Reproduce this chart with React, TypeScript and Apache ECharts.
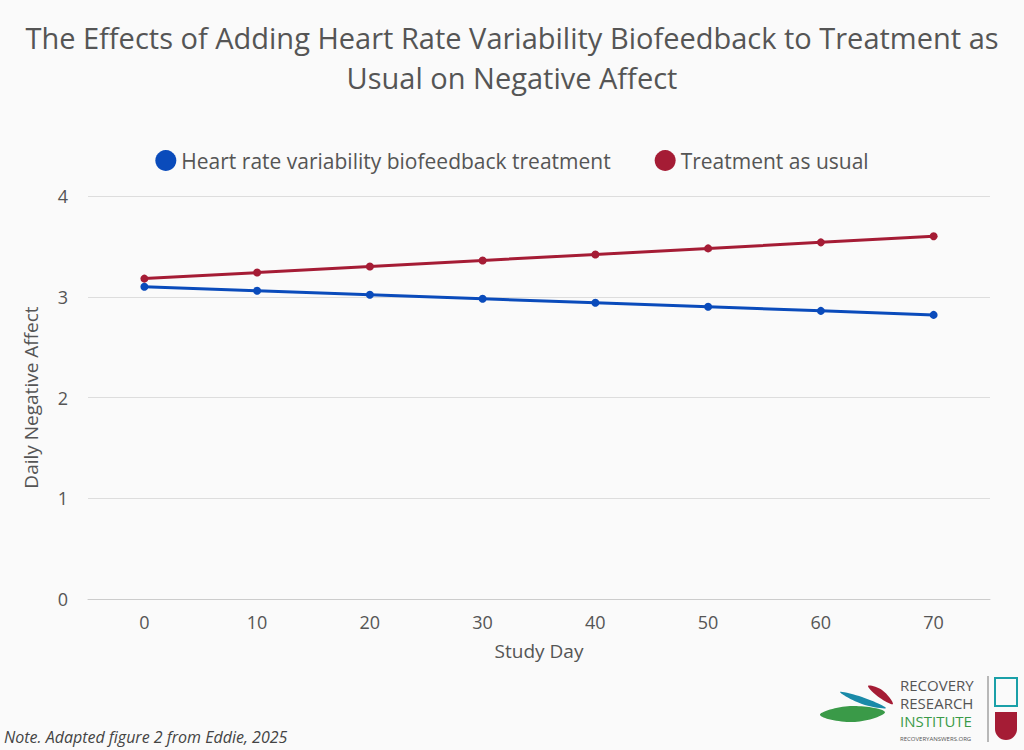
import React, { useEffect, useRef } from "react";
import * as echarts from "echarts";

const categories = ["0", "10", "20", "30", "40", "50", "60", "70"];
const hrvValues = [3.1, 3.06, 3.02, 2.98, 2.94, 2.9, 2.86, 2.82];
const tauValues = [3.18, 3.24, 3.3, 3.36, 3.42, 3.48, 3.54, 3.6];
const seriesNames = ["Heart rate variability biofeedback treatment", "Treatment as usual"];

const FONT = "Open Sans";

export default function App() {
  const ref = useRef<HTMLDivElement>(null);
  useEffect(() => {
    document.body.style.margin = "0";
    const chart = echarts.init(ref.current!, null, { renderer: "svg" });
    const leaf = (pts: number[][], color: string) => ({
      type: "polygon",
      shape: { points: pts, smooth: 0.4 },
      style: { fill: color },
    });
    const logoText = (text: string, y: number, fill: string, fontSize = 15) => ({
      type: "text", x: 900, y,
      style: { text, fontSize, lineHeight: fontSize + 1, fill, fontFamily: FONT },
    });
    chart.setOption({
      animation: false,
      backgroundColor: "#fafafa",
      textStyle: { fontFamily: FONT },
      title: {
        text: "The Effects of Adding Heart Rate Variability Biofeedback to Treatment as\nUsual on Negative Affect",
        left: "center",
        top: 12,
        textStyle: { fontFamily: FONT, fontWeight: "normal", fontSize: 29, color: "#555", lineHeight: 40 },
      },
      legend: {
        top: 145,
        left: "center",
        icon: "circle",
        itemWidth: 21,
        itemHeight: 21,
        itemGap: 44,
        textStyle: { fontSize: 21, color: "#555", fontFamily: FONT },
        data: seriesNames,
      },
      grid: { left: 88, right: 34, top: 196, bottom: 151 },
      xAxis: {
        type: "category",
        data: categories,
        name: "Study Day",
        nameLocation: "middle",
        nameGap: 42,
        nameTextStyle: { fontSize: 19, color: "#555" },
        axisLine: { lineStyle: { color: "#ccc" } },
        axisTick: { show: false },
        axisLabel: { fontSize: 18, color: "#555", margin: 14 },
      },
      yAxis: {
        type: "value",
        min: 0,
        max: 4,
        interval: 1,
        name: "Daily Negative Affect",
        nameLocation: "middle",
        nameGap: 48,
        nameTextStyle: { fontSize: 19, color: "#555" },
        axisLabel: { fontSize: 18, color: "#555", margin: 20 },
        splitLine: { lineStyle: { color: "#ddd" } },
      },
      series: [
        { name: seriesNames[0], type: "line", data: hrvValues, color: "#0a4bbb", symbol: "circle", symbolSize: 8, lineStyle: { width: 3 } },
        { name: seriesNames[1], type: "line", data: tauValues, color: "#a51c35", symbol: "circle", symbolSize: 8, lineStyle: { width: 3 } },
      ],
      graphic: [
        { type: "text", left: 4, top: 729, style: { text: "Note. Adapted figure 2 from Eddie, 2025", fontSize: 16, fontStyle: "italic", fill: "#444", fontFamily: FONT } },
        leaf([[820, 715], [850, 706], [885, 712], [855, 722]], "#3a9a48"),
        leaf([[840, 692], [862, 697], [886, 708], [862, 704]], "#1a8aa8"),
        leaf([[868, 686], [882, 690], [893, 704], [880, 698]], "#a51c35"),
        logoText("RECOVERY", 677, "#555"),
        logoText("RESEARCH", 695, "#555"),
        logoText("INSTITUTE", 713, "#3a9a48"),
        logoText("RECOVERYANSWERS.ORG", 735, "#555", 6),
        { type: "line", shape: { x1: 988, y1: 676, x2: 988, y2: 742 }, style: { stroke: "#777", lineWidth: 1 } },
        { type: "rect", shape: { x: 995, y: 678, width: 22, height: 28 }, style: { fill: "none", stroke: "#1aa0a8", lineWidth: 2 } },
        { type: "rect", shape: { x: 995, y: 712, width: 22, height: 28, r: [0, 0, 11, 11] }, style: { fill: "#a51c35" } },
      ],
    });
    return () => chart.dispose();
  }, []);
  return <div ref={ref} style={{ width: 1024, height: 750 }} />;
}
